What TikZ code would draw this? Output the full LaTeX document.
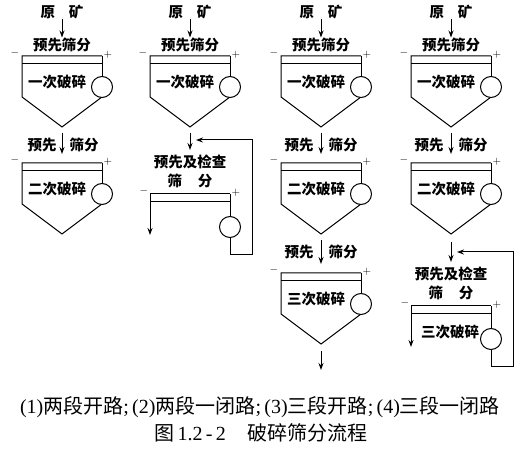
\documentclass[tikz,border=0pt]{standalone}
\usepackage{fontspec}
\setmainfont{Liberation Serif}
\newfontfamily\cjk{Noto Sans CJK SC}
\usetikzlibrary{arrows.meta}

\tikzset{
	flow/.style={-{Stealth[length=7pt,width=5pt]}},
	lbl/.style={font=\cjk\bfseries\fontsize{14.5pt}{16pt}\selectfont, inner sep=0pt},
	sign/.style={font=\fontsize{11pt}{11pt}\selectfont, inner sep=0pt},
	captext/.style={font=\fontsize{20pt}{22pt}\selectfont, inner sep=0pt},
	mill/.style={circle, draw, fill=white, minimum size=21pt, inner sep=0pt},
	crusher/.pic={
		\draw (-40,8) -- (40,8);
		\draw (40,0) -- (-40,0) -- (-40,41) -- (0,71) -- (40,41);
		\node[mill] (-mill) at (40,31) {};
		\draw (40,0) -- (-mill);
		\coordinate (-top) at (0,0);
		\coordinate (-out) at (0,71);
		\node[sign] at (-47,-3) {$-$};
		\node[sign] at (46,-1) {$+$};
		\node[lbl] at (-5,26) {\tikzpictext};
	},
	checkscreen/.pic={
		\draw (-40,8) -- (40,8);
		\draw (-40,0) -- (40,0);
		\coordinate (-drop) at (-40,41);
		\draw[flow] (-40,0) -- (-drop);
		\node[mill] (-mill) at (40,33) {};
		\draw (40,0) -- (-mill);
		\coordinate (-in) at (0,-44);
		\coordinate (-back) at (6,-54);
		\draw[flow] (-mill.south) |- (62,61) -- (62,-54) -- (-back);
		\node[lbl] at (0,-32) {预先及检查};
		\node[lbl] at (0,-13) {筛\hspace{16pt}分};
		\node[sign] at (-46,-3) {$-$};
		\node[sign] at (46,-1) {$+$};
		\node[lbl] at (-1,26) {\tikzpictext};
	}
}

\begin{document}
\begin{tikzpicture}[x=1pt,y=-1pt,line width=1pt]
	\useasboundingbox[fill=white] (0,0) rectangle (528,449);

	% (1) two stages, open circuit
	\node[lbl] (ore1) at (62,12) {原\hspace{14pt}矿};
	\node[lbl] (pre1) at (62,45) {预先筛分};
	\pic[pic text=一次破碎] (a1) at (62,56) {crusher};
	\node[lbl] (pa1) at (42,145) {预先};
	\node[lbl] (sa1) at (84,145) {筛分};
	\pic[pic text=二次破碎] (a2) at (62,163) {crusher};

	\draw[flow] (ore1.south) -- (pre1.north);
	\draw[flow, shorten <=6pt, shorten >=9pt] (a1-out) -- (a2-top);

	% (2) two stages, one closed
	\node[lbl] (ore2) at (190,12) {原\hspace{14pt}矿};
	\node[lbl] (pre2) at (190,45) {预先筛分};
	\pic[pic text=一次破碎] (b1) at (190,56) {crusher};
	\pic[pic text={}] (b2) at (190,194) {checkscreen};

	\draw[flow] (ore2.south) -- (pre2.north);
	\draw[flow, shorten <=6pt] (b1-out) -- (b2-in);

	% (3) three stages, open circuit
	\node[lbl] (ore3) at (321,12) {原\hspace{14pt}矿};
	\node[lbl] (pre3) at (321,45) {预先筛分};
	\pic[pic text=一次破碎] (c1) at (321,56) {crusher};
	\node[lbl] (pc1) at (299,145) {预先};
	\node[lbl] (sc1) at (343,145) {筛分};
	\pic[pic text=二次破碎] (c2) at (321,163) {crusher};
	\node[lbl] (pc2) at (299,252) {预先};
	\node[lbl] (sc2) at (343,252) {筛分};
	\pic[pic text=三次破碎] (c3) at (321,273) {crusher};
	\coordinate (c3end) at (321,370);

	\draw[flow] (ore3.south) -- (pre3.north);
	\draw[flow, shorten <=6pt, shorten >=9pt] (c1-out) -- (c2-top);
	\draw[flow, shorten <=6pt, shorten >=9pt] (c2-out) -- (c3-top);
	\draw[flow, shorten <=7pt] (c3-out) -- (c3end);

	% (4) three stages, one closed
	\node[lbl] (ore4) at (451,12) {原\hspace{14pt}矿};
	\node[lbl] (pre4) at (451,45) {预先筛分};
	\pic[pic text=一次破碎] (d1) at (451,56) {crusher};
	\node[lbl] (pd1) at (429,145) {预先};
	\node[lbl] (sd1) at (473,145) {筛分};
	\pic[pic text=二次破碎] (d2) at (451,163) {crusher};
	\pic[pic text=三次破碎] (d3) at (451,306) {checkscreen};

	\draw[flow] (ore4.south) -- (pre4.north);
	\draw[flow, shorten <=6pt, shorten >=9pt] (d1-out) -- (d2-top);
	\draw[flow, shorten <=8pt] (d2-out) -- (d3-in);

	% caption
	\node[captext] (cap1) at (260,407) {(1){\cjk 两段开路};\,(2){\cjk 两段一闭路};\,(3){\cjk 三段开路};\,(4){\cjk 三段一闭路}};
	\node[captext] (cap2) at (261,433) {{\cjk 图}\,1.2\,-\,2\hspace{22pt}{\cjk 破碎筛分流程}};
\end{tikzpicture}
\end{document}
